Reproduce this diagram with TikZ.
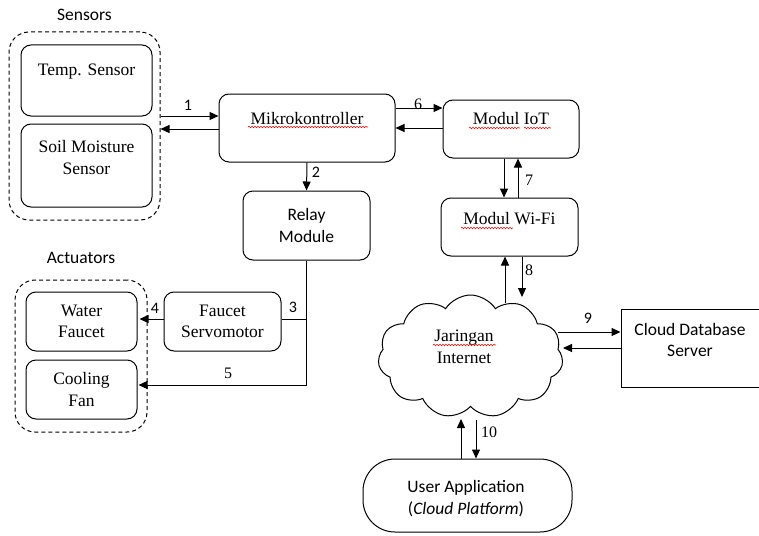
\documentclass[tikz,border=0pt]{standalone}
\usepackage{fontspec}
\setmainfont{Liberation Serif}
\newfontfamily\calfont{Carlito}
\usetikzlibrary{arrows.meta,shapes.symbols,decorations.pathmorphing}
\tikzset{
  box/.style={draw, line width=1pt, rounded corners=10pt, inner sep=0pt},
  grp/.style={draw, dashed, line width=1pt, rounded corners=20pt, inner sep=0pt, dash pattern=on 4pt off 3pt},
  sq/.style={draw, line width=1pt, inner sep=0pt},
  txt/.style={inner sep=0pt, align=center, font=\fontsize{17.5}{21.5}\selectfont},
  stxt/.style={inner sep=0pt, align=center, font=\calfont\fontsize{17.5}{21.5}\selectfont},
  num/.style={inner sep=0pt, font=\fontsize{16}{18}\selectfont},
  snum/.style={inner sep=0pt, font=\calfont\fontsize{16}{18}\selectfont},
  arr/.style={line width=1pt, -{Triangle[length=9pt,width=8pt]}},
  ln/.style={line width=1pt},
  wavy/.style={red, line width=0.6pt, decorate, decoration={snake, segment length=3pt, amplitude=0.7pt}}
}
\begin{document}
\begin{tikzpicture}[x=1pt,y=-1pt]
\useasboundingbox (0,0) rectangle (759,535);
\clip (0,0) rectangle (759,535);
% groups
\node[grp, minimum width=151pt, minimum height=188pt] (sens) at (84.5,126) {};
\node[stxt] (senslbl) at (84.5,15) {Sensors};
\node[grp, minimum width=132pt, minimum height=152pt] (act) at (81,356) {};
\node[stxt] (actlbl) at (81,258) {Actuators};
% sensor boxes
\node[box, minimum width=131pt, minimum height=71pt] (temp) at (86.5,80.5) {};
\node[txt] (tempt) at (86.5,72) {Temp. Sensor};
\node[box, minimum width=131pt, minimum height=83pt] (soil) at (86.5,165.5) {};
\node[txt] (soilt) at (86.5,157.5) {Soil Moisture\\Sensor};
% main chain
\node[box, minimum width=176pt, minimum height=68pt] (mk) at (307,128) {};
\node[txt] (mkt) at (307,119) {Mikrokontroller};
\node[box, stxt, minimum width=127pt, minimum height=69pt] (relay) at (306.5,225.5) {Relay\\Module};
\node[box, minimum width=136pt, minimum height=58pt] (iot) at (511,129) {};
\node[txt] (iott) at (511,119) {Modul IoT};
\node[box, minimum width=137pt, minimum height=58pt] (wifi) at (509.5,227) {};
\node[txt] (wifit) at (509.5,219) {Modul Wi-Fi};
% actuators
\node[box, txt, minimum width=111pt, minimum height=59pt] (water) at (81.5,321.5) {Water\\Faucet};
\node[box, txt, minimum width=111pt, minimum height=59pt] (fan) at (81.5,389.5) {Cooling\\Fan};
\node[box, txt, minimum width=117pt, minimum height=59pt] (servo) at (222.5,321.5) {Faucet\\Servomotor};
% cloud
\node[cloud, draw, line width=1pt, cloud puffs=11, cloud puff arc=115, aspect=1.5, minimum width=185pt, minimum height=123pt, inner sep=0pt] (net) at (470.5,356.5) {};
\node[txt] (nett) at (464,347) {Jaringan\\Internet};
% cloud db
\node[sq, minimum width=141pt, minimum height=78pt] (cds) at (691.5,348) {};
\node[stxt] (cdst) at (690,340) {Cloud Database\\Server};
% user app
\node[draw, line width=1pt, rounded corners=32pt, minimum width=209pt, minimum height=73pt, inner sep=0pt] (user) at (467.5,495.5) {};
\node[stxt] (usert) at (466,498.5) {User Application\\(\textit{Cloud Platform})};
% spell-check underlines
\draw[wavy] (248,127) -- (368,127);
\draw[wavy] (469,128) -- (520,128);
\draw[wavy] (524,128) -- (551,128);
\draw[wavy] (461,228) -- (513,228);
\draw[wavy] (433,345) -- (496,345);
% connectors
\draw[arr] (sens.east |- 0,116) -- (mk.west |- 0,116);
\draw[arr] (mk.west |- 0,129) -- (sens.east |- 0,129);
\node[snum] (n1) at (188,105) {1};
\draw[arr] (mk.south) -- (relay.north);
\node[snum] (n2) at (316,172) {2};
\draw[arr] (mk.east |- 0,108) -- (iot.west |- 0,108);
\draw[arr] (iot.west |- 0,128) -- (mk.east |- 0,128);
\node[num] (n6) at (418,104) {6};
\draw[arr] (iot.south -| 504,0) -- (wifi.north -| 504,0);
\draw[arr] (wifi.north -| 518,0) -- (iot.south -| 518,0);
\node[num] (n7) at (529,180) {7};
\coordinate (c8up) at (505,303);
\coordinate (c8dn) at (522,297);
\draw[arr] (c8up) -- (wifi.south -| c8up);
\draw[arr] (wifi.south -| c8dn) -- (c8dn);
\node[num] (n8) at (529,270) {8};
\coordinate (c9out) at (558,332);
\coordinate (c9in) at (563,348);
\draw[arr] (c9out) -- (cds.west |- c9out);
\draw[arr] (cds.west |- c9in) -- (c9in);
\node[snum] (n9) at (588,318) {9};
\coordinate (c10up) at (461,419);
\coordinate (c10dn) at (476,420);
\draw[arr] (user.north -| c10up) -- (c10up);
\draw[arr] (c10dn) -- (user.north -| c10dn);
\node[num] (n10) at (489,432) {10};
\coordinate (j3) at (relay.south |- 0,319);
\coordinate (j5) at (relay.south |- 0,385);
\draw[ln] (relay.south) -- (j5);
\draw[ln] (j3) -- (servo.east |- j3);
\node[snum] (n3) at (293,307) {3};
\draw[arr] (servo.west |- 0,319) -- ([xshift=2pt]water.east |- 0,319);
\node[snum] (n4) at (155,308) {4};
\draw[arr] (j5) -- ([xshift=1pt]fan.east |- j5);
\node[num] (n5) at (228,373) {5};
\end{tikzpicture}
\end{document}
